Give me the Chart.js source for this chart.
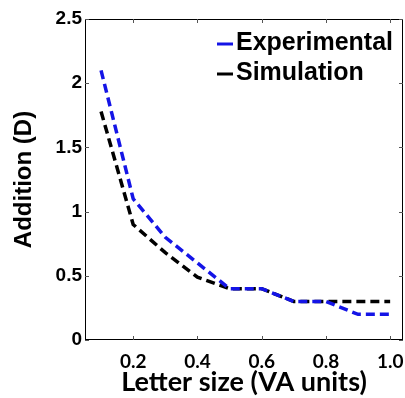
<!DOCTYPE html>
<html>
<head>
<meta charset="utf-8">
<script src="https://cdn.jsdelivr.net/npm/chart.js@4"></script>
<style>
  html, body { margin: 0; padding: 0; background: #fff; }
  #wrap { width: 405px; height: 398px; }
</style>
</head>
<body>
<div id="wrap"><canvas id="lineChart"></canvas></div>
<script>
// 데이터
var letterSize = [0.1, 0.2, 0.3, 0.4, 0.5, 0.6, 0.7, 0.8, 0.9, 1.0];
var experimental = [2.1, 1.1, 0.8, 0.6, 0.4, 0.4, 0.3, 0.3, 0.2, 0.2];
var simulation = [1.78, 0.9, 0.68, 0.49, 0.4, 0.4, 0.3, 0.3, 0.3, 0.3];
var xTicks = [0.2, 0.4, 0.6, 0.8, 1.0];
var yTicks = [0, 0.5, 1, 1.5, 2, 2.5];
var seriesNames = ['Experimental', 'Simulation'];
var seriesColors = ['#1414e6', '#000000'];

function toPoints(ys) {
  return letterSize.map(function(x, i) { return { x: x, y: ys[i] }; });
}

// 테두리 + 안쪽 눈금 + 범례
var framePlugin = {
  id: 'frame',
  afterDraw: function(chart) {
    var ctx = chart.ctx;
    var a = chart.chartArea;
    var xs = chart.scales.x, ys = chart.scales.y;
    ctx.save();
    ctx.strokeStyle = '#000';
    ctx.lineWidth = 1;
    ctx.strokeRect(a.left + 0.5, a.top + 0.5, a.right - a.left - 1, a.bottom - a.top - 1);
    ctx.strokeStyle = '#555';
    xTicks.forEach(function(v) {
      var px = Math.round(xs.getPixelForValue(v)) + 0.5;
      ctx.beginPath();
      ctx.moveTo(px, a.bottom); ctx.lineTo(px, a.bottom - 4);
      ctx.moveTo(px, a.top); ctx.lineTo(px, a.top + 4);
      ctx.stroke();
    });
    yTicks.forEach(function(v) {
      var py = Math.round(ys.getPixelForValue(v)) + 0.5;
      ctx.beginPath();
      ctx.moveTo(a.left, py); ctx.lineTo(a.left + 4, py);
      ctx.moveTo(a.right, py); ctx.lineTo(a.right - 4, py);
      ctx.stroke();
    });
    // 범례
    ctx.font = 'bold 25px "Liberation Sans", Arial, sans-serif';
    ctx.textBaseline = 'middle';
    ctx.textAlign = 'left';
    var rows = [43, 73];
    seriesNames.forEach(function(name, i) {
      ctx.strokeStyle = seriesColors[i];
      ctx.lineWidth = 3;
      ctx.beginPath();
      ctx.moveTo(217, rows[i] + 1); ctx.lineTo(233, rows[i] + 1);
      ctx.stroke();
      ctx.fillStyle = '#000';
      ctx.fillText(name, 236, rows[i]);
    });
    ctx.restore();
  }
};

function createChart() {
  var data = {
    datasets: [{
      label: seriesNames[0],
      data: toPoints(experimental),
      borderColor: seriesColors[0],
      borderWidth: 3.5,
      borderDash: [9, 5],
      pointRadius: 0,
      fill: false
    }, {
      label: seriesNames[1],
      data: toPoints(simulation),
      borderColor: seriesColors[1],
      borderWidth: 3.5,
      borderDash: [9, 5],
      pointRadius: 0,
      fill: false
    }]
  };

  var options = {
    responsive: true,
    maintainAspectRatio: false,
    animation: false,
    layout: { padding: { top: 19, right: 2, left: 0, bottom: 0 } },
    plugins: { legend: { display: false }, tooltip: { enabled: false } },
    scales: {
      x: {
        type: 'linear',
        min: 0.05,
        max: 1.04,
        afterBuildTicks: function(s) { s.ticks = xTicks.map(function(v) { return { value: v }; }); },
        afterFit: function(s) { s.height = 58; s.paddingLeft = 0; s.paddingRight = 0; },
        grid: { display: false, drawTicks: false },
        border: { display: false },
        ticks: {
          color: '#000',
          padding: 10,
          font: { family: 'Lato, "Open Sans", sans-serif', weight: 'bold', size: 19 },
          callback: function(v) { return v.toFixed(1); }
        },
        title: {
          display: true,
          text: 'Letter size (VA units)',
          color: '#000',
          padding: { top: 2, bottom: 0 },
          font: { family: 'Lato, "Open Sans", sans-serif', weight: 'bold', size: 27 }
        }
      },
      y: {
        type: 'linear',
        min: 0,
        max: 2.5,
        afterBuildTicks: function(s) { s.ticks = yTicks.map(function(v) { return { value: v }; }); },
        afterFit: function(s) { s.width = 85; },
        grid: { display: false, drawTicks: false },
        border: { display: false },
        ticks: {
          color: '#000',
          padding: 3,
          font: { family: '"Liberation Sans", Arial, sans-serif', weight: 'bold', size: 19 },
          callback: function(v) { return String(v); }
        },
        title: {
          display: true,
          text: 'Addition (D)',
          color: '#000',
          padding: { top: 10, bottom: 0 },
          font: { family: '"Liberation Sans", Arial, sans-serif', weight: 'bold', size: 24 }
        }
      }
    }
  };

  var ctx = document.getElementById('lineChart').getContext('2d');
  new Chart(ctx, { type: 'line', data: data, options: options, plugins: [framePlugin] });
}

createChart();
</script>
</body>
</html>
